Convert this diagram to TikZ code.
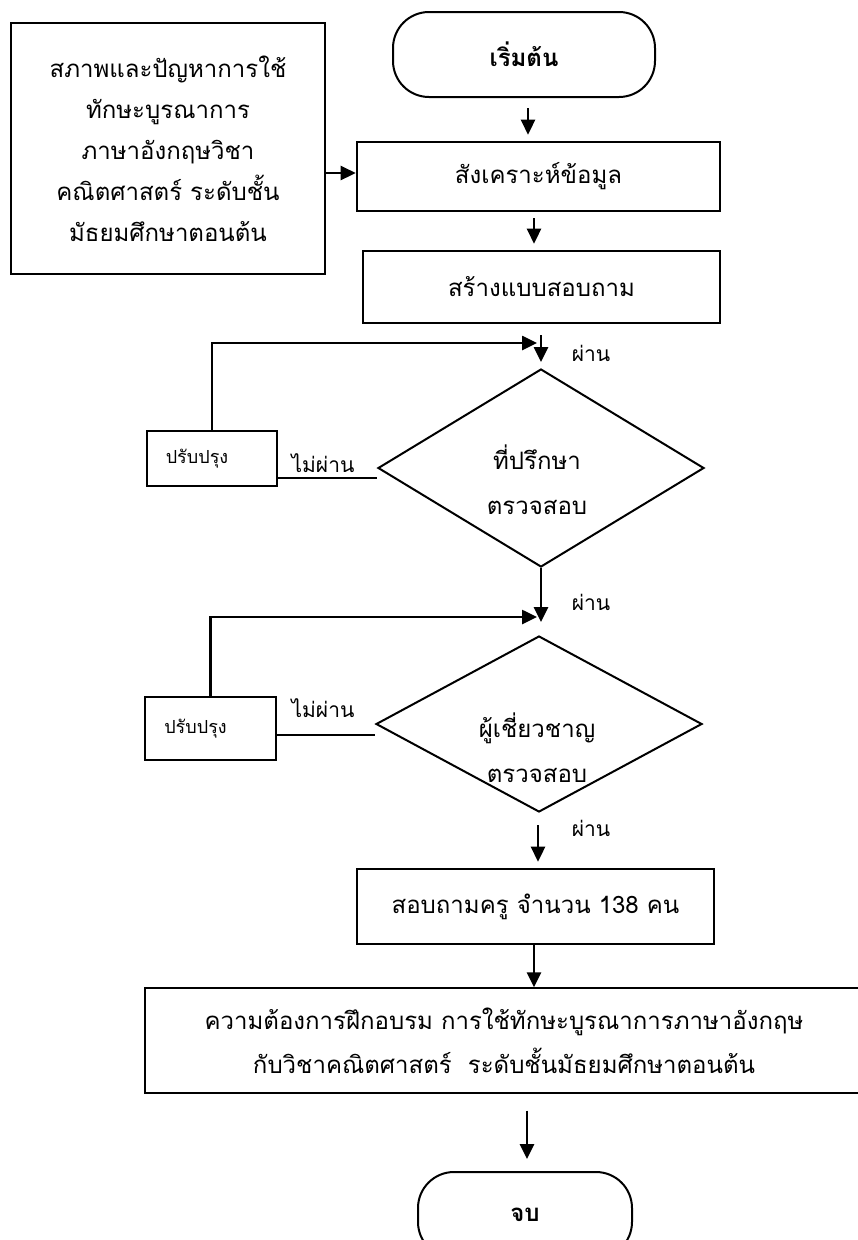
\documentclass[tikz,border=0pt]{standalone}
\usepackage{fontspec}
\newfontfamily\thai[Script=Thai]{Loma}
\usetikzlibrary{shapes.geometric,arrows.meta}
\begin{document}
\begin{tikzpicture}[x=1pt,y=-1pt,
  box/.style={draw,line width=2.6pt,inner sep=0pt,align=center,font=\thai\fontsize{24}{41}\selectfont},
  term/.style={draw,line width=2pt,rounded corners=36pt,inner sep=0pt,font=\thai\bfseries\fontsize{24}{30}\selectfont},
  dia/.style={draw,diamond,line width=2pt,inner sep=0pt},
  dtext/.style={align=center,inner sep=0pt,font=\thai\fontsize{24}{45}\selectfont},
  small/.style={draw,line width=2pt,inner sep=0pt,font=\thai\fontsize{18}{22}\selectfont},
  lbl/.style={inner sep=0pt,font=\thai\fontsize{21}{25}\selectfont},
  arr/.style={line width=2.6pt,-{Triangle[length=15pt,width=14pt]}},
  conn/.style={line width=2.8pt}]
\useasboundingbox (0,0) rectangle (858,1240);
% nodes
\node[term,minimum width=262pt,minimum height=85pt] (start) at (524,54.5) {เริ่มต้น};
\node[box,minimum width=314pt,minimum height=251pt] (left) at (168,148.5)
  {สภาพและปัญหาการใช้\\ทักษะบูรณาการ\\ภาษาอังกฤษวิชา\\คณิตศาสตร์ ระดับชั้น\\มัธยมศึกษาตอนต้น};
\node[box,minimum width=363pt,minimum height=69pt] (synth) at (538.5,176.5) {สังเคราะห์ข้อมูล};
\node[box,minimum width=357pt,minimum height=72pt] (create) at (541.5,287) {สร้างแบบสอบถาม};
\node[dia,minimum width=326pt,minimum height=198pt] (d1) at (541,468) {};
\node[dtext] (d1t) at (537,480) {ที่ปรึกษา\\ตรวจสอบ};
\node[small,minimum width=130pt,minimum height=55pt] (p1) at (212,458.5) {ปรับปรุง\hspace*{30pt}};
\node[dia,minimum width=326pt,minimum height=176pt] (d2) at (539,724) {};
\node[dtext] (d2t) at (537,748) {ผู้เชี่ยวชาญ\\ตรวจสอบ};
\node[small,minimum width=131pt,minimum height=63pt] (p2) at (210.5,728.5) {ปรับปรุง\hspace*{30pt}};
\node[box,minimum width=357pt,minimum height=75pt] (survey) at (535.5,906.5) {สอบถามครู จำนวน 138 คน};
\node[box,line width=1.4pt,font=\thai\fontsize{24}{44}\selectfont,minimum width=718pt,minimum height=105pt] (big) at (504,1040.5)
  {ความต้องการฝึกอบรม การใช้ทักษะบูรณาการภาษาอังกฤษ\\กับวิชาคณิตศาสตร์~~ระดับชั้นมัธยมศึกษาตอนต้น};
\node[term,minimum width=214pt,minimum height=86pt] (end) at (525,1215) {จบ};
% labels
\node[lbl] (l1) at (591,353) {ผ่าน};
\node[lbl] (l2) at (323,463) {ไม่ผ่าน};
\node[lbl] (l3) at (591,602) {ผ่าน};
\node[lbl] (l4) at (323,708) {ไม่ผ่าน};
\node[lbl] (l5) at (591,828) {ผ่าน};
% coordinates
\coordinate (t1) at (541,335);
\coordinate (j1) at (537,343);
\coordinate (j2) at (537,617);
% connectors
\draw[arr,shorten <=10pt,shorten >=6pt] ([xshift=4pt]start.south) -- ([xshift=4pt]start.south |- synth.north);
\draw[arr] ([yshift=-24.5pt]left.east) -- ([yshift=-24.5pt]left.east -| synth.west);
\draw[arr,shorten <=6pt,shorten >=6pt] ([xshift=-4.5pt]synth.south) -- ([xshift=-4.5pt]synth.south |- create.north);
\draw[arr,shorten >=6pt] (t1) -- (d1.north);
\draw[conn] ([yshift=-19.5pt]p1.east) -- ([yshift=-19.5pt]p1.east -| d1.west);
\draw[arr] (p1.north) |- (j1);
\draw[arr,shorten >=13pt] (d1.south) -- (d1.south |- d2.north);
\draw[conn] ([yshift=-6.5pt]p2.east) -- ([yshift=-6.5pt]p2.east -| d2.west);
\draw[arr] (p2.north) |- (j2);
\draw[arr,shorten <=12pt,shorten >=6pt] ([xshift=-1pt]d2.south) -- ([xshift=-1pt]d2.south |- survey.north);
\draw[arr] ([xshift=-1.5pt]survey.south) -- ([xshift=-1.5pt]survey.south |- big.north);
\draw[arr,shorten <=17pt,shorten >=12pt] ([xshift=2pt]end.north |- big.south) -- ([xshift=2pt]end.north);
\end{tikzpicture}
\end{document}
